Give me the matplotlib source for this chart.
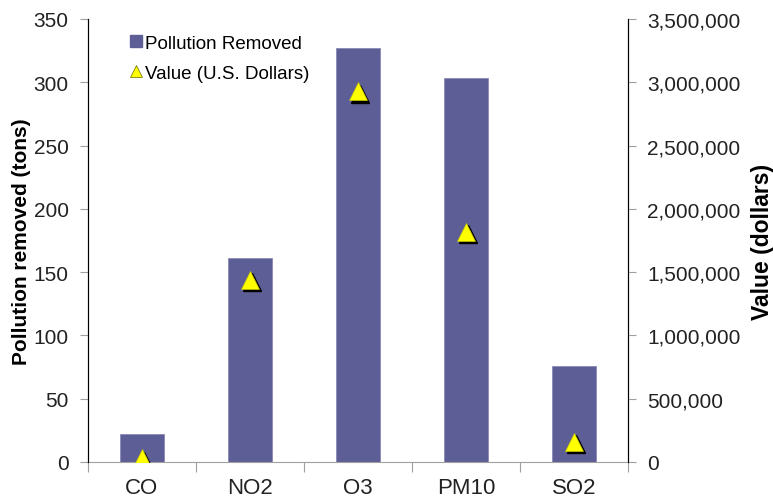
import matplotlib
matplotlib.use("Agg")
import matplotlib.pyplot as plt
from matplotlib.ticker import FuncFormatter, FixedLocator
from matplotlib.transforms import offset_copy
from matplotlib.lines import Line2D
import numpy as np

plt.rcParams["font.family"] = ["Liberation Sans", "DejaVu Sans"]

pollutants = ["CO", "NO2", "O3", "PM10", "SO2"]
removed_tons = [22, 161, 327, 303, 76]
value_dollars = [30000, 1440000, 2930000, 1820000, 160000]

bar_color = "#5E5E96"
tick_gray = "#A0A0A0"

fig = plt.figure(figsize=(7.73, 5.02), dpi=100)
ax = fig.add_axes([0.1138, 0.0777, 0.6986, 0.8825])
ax2 = ax.twinx()

x = np.arange(len(pollutants))
ax.bar(x, removed_tons, width=0.4, color=bar_color, edgecolor="#8A8AB8",
       linewidth=0.6, zorder=2)

# drop shadow under the triangles
shadow = offset_copy(ax2.transData, fig=fig, x=2.5, y=-2.5, units="dots")
ax2.plot(x, value_dollars, linestyle="none", marker="^", markersize=13,
         color="black", transform=shadow, zorder=3)
ax2.plot(x, value_dollars, linestyle="none", marker="^", markersize=13,
         markerfacecolor="#FFFF00", markeredgecolor="#C8C800",
         markeredgewidth=0.5, zorder=4)

ax.set_xlim(-0.5, len(pollutants) - 0.5)
ax.set_ylim(0, 350)
ax2.set_ylim(0, 3500000)
ax.set_yticks(np.arange(0, 351, 50))
ax2.set_yticks(np.arange(0, 3500001, 500000))
ax2.yaxis.set_major_formatter(FuncFormatter(lambda v, p: f"{int(v):,}"))

ax.set_xticks(x)
ax.set_xticklabels(pollutants)
ax.xaxis.set_minor_locator(FixedLocator(np.arange(-0.5, len(pollutants), 1.0)))
ax.tick_params(axis="x", which="major", length=0, pad=11, labelsize=16,
               labelcolor="#222222")
ax.tick_params(axis="x", which="minor", length=7, color=tick_gray, width=0.8)

ax.tick_params(axis="y", length=6, color=tick_gray, width=0.8, labelsize=15,
               pad=8, labelcolor="#222222")
ax2.tick_params(axis="y", length=6, color=tick_gray, width=0.8, labelsize=15,
                pad=8, labelcolor="#222222")

for a in (ax, ax2):
    a.spines["top"].set_visible(False)
    a.spines["bottom"].set_color(tick_gray)
    a.spines["left"].set_color("black")
    a.spines["right"].set_color("black")
ax2.spines["bottom"].set_visible(False)

ax.set_ylabel("Pollution removed (tons)", fontsize=15, fontweight="bold",
              labelpad=1.5)
ax2.set_ylabel("Value (dollars)", fontsize=16.5, fontweight="bold", labelpad=7)

handles = [
    Line2D([], [], linestyle="none", marker="s", markersize=8, color=bar_color),
    Line2D([], [], linestyle="none", marker="^", markersize=9,
           markerfacecolor="#FFFF00", markeredgecolor="#666600",
           markeredgewidth=0.5),
]
ax.legend(handles, ["Pollution Removed", "Value (U.S. Dollars)"],
          loc="upper left", bbox_to_anchor=(0.057, 0.99), frameon=False,
          fontsize=13.5, handlelength=0.6, handletextpad=0.2,
          labelspacing=0.7, borderaxespad=0.2)

fig.savefig("out.png", dpi=100)
